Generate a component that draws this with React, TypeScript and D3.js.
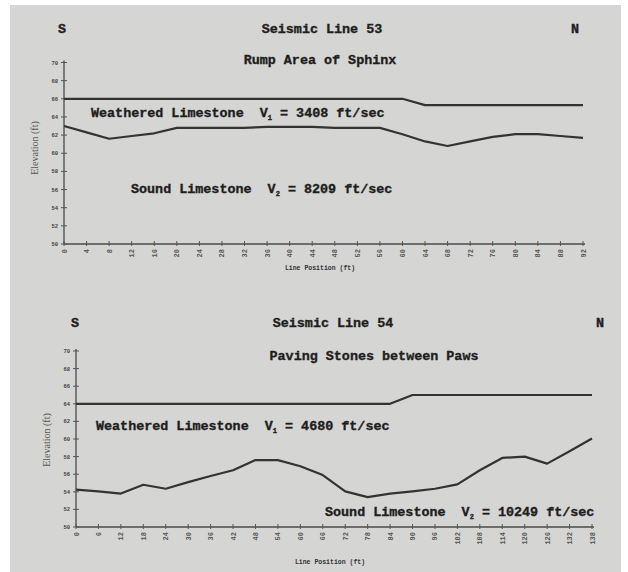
import React from "react";
import * as d3 from "d3";

// ---------- Data ----------
const yTicks = [70, 68, 66, 64, 62, 60, 58, 56, 54, 52, 50];

// Seismic Line 53 (Rump Area of Sphinx)
const s53Positions = [0, 4, 8, 12, 16, 20, 24, 28, 32, 36, 40, 44, 48, 52, 56, 60, 64, 68, 72, 76, 80, 84, 88, 92];
const s53Weathered = [66, 66, 66, 66, 66, 66, 66, 66, 66, 66, 66, 66, 66, 66, 66, 66, 65.3, 65.3, 65.3, 65.3, 65.3, 65.3, 65.3, 65.3];
const s53Sound = [63.0, 62.3, 61.6, 61.9, 62.2, 62.8, 62.8, 62.8, 62.8, 62.9, 62.9, 62.9, 62.8, 62.8, 62.8, 62.1, 61.3, 60.8, 61.3, 61.8, 62.1, 62.1, 61.9, 61.7];

// Seismic Line 54 (Paving Stones between Paws)
const s54Positions = [0, 6, 12, 18, 24, 30, 36, 42, 48, 54, 60, 66, 72, 78, 84, 90, 96, 102, 108, 114, 120, 126, 132, 138];
const s54Weathered = [64, 64, 64, 64, 64, 64, 64, 64, 64, 64, 64, 64, 64, 64, 64, 65, 65, 65, 65, 65, 65, 65, 65, 65];
const s54Sound = [54.25, 54.05, 53.8, 54.8, 54.35, 55.1, 55.8, 56.45, 57.6, 57.6, 56.9, 55.9, 54.05, 53.4, 53.8, 54.05, 54.35, 54.85, 56.45, 57.85, 58.0, 57.2, 58.6, 60.05];

const MONO = "'Liberation Mono', 'DejaVu Sans Mono', monospace";
const INK = "#1e1e1e";
const LINE = "#333333";

type ChartProps = {
  positions: number[];
  weathered: number[];
  sound: number[];
  x0: number;
  x1: number;
  yTop: number;
  yBot: number;
  title: string;
  titleX: number;
  titleY: number;
  sX: number;
  nX: number;
  subtitle: string;
  subX: number;
  subY: number;
  wText: [string, string, string];
  wX: number;
  wY: number;
  sText: [string, string, string];
  sTX: number;
  sTY: number;
  yLabelX: number;
  yLabelY: number;
  xLabelX: number;
  xLabelY: number;
};

const heavy = { stroke: INK, strokeWidth: 0.35 };

function Layer(props: { x: number; y: number; parts: [string, string, string] }) {
  const [a, sub, b] = props.parts;
  return (
    <text x={props.x} y={props.y} fontFamily={MONO} fontWeight="bold" fontSize={13.4} fill={INK} {...heavy} xmlSpace="preserve">
      <tspan>{a}</tspan>
      <tspan fontSize={7} dy={3}>{sub}</tspan>
      <tspan dy={-3}>{b}</tspan>
    </text>
  );
}

function Chart(p: ChartProps) {
  const maxPos = p.positions[p.positions.length - 1];
  const x = d3.scaleLinear().domain([0, maxPos]).range([p.x0, p.x1]);
  const y = d3.scaleLinear().domain([50, 70]).range([p.yBot, p.yTop]);
  const line = d3
    .line<number>()
    .x((_, i) => x(p.positions[i]))
    .y((d) => y(d));

  return (
    <g>
      {/* Titles */}
      <text x={p.sX} y={p.titleY} fontFamily={MONO} fontWeight="bold" fontSize={13.4} fill={INK} {...heavy} textAnchor="middle">S</text>
      <text x={p.titleX} y={p.titleY} fontFamily={MONO} fontWeight="bold" fontSize={13.4} fill={INK} {...heavy} textAnchor="middle">{p.title}</text>
      <text x={p.nX} y={p.titleY} fontFamily={MONO} fontWeight="bold" fontSize={13.4} fill={INK} {...heavy} textAnchor="middle">N</text>
      <text x={p.subX} y={p.subY} fontFamily={MONO} fontWeight="bold" fontSize={13.4} fill={INK} {...heavy} textAnchor="middle">{p.subtitle}</text>

      {/* Axes */}
      <line x1={p.x0} x2={p.x0} y1={p.yTop - 2} y2={p.yBot} stroke="#4a4a4a" strokeWidth={1.3} />
      <line x1={p.x0} x2={p.x1 + 2} y1={p.yBot} y2={p.yBot} stroke="#4a4a4a" strokeWidth={1.5} />
      {yTicks.map((t) => (
        <g key={"y" + t}>
          <line x1={p.x0 - 3} x2={p.x0 + 3} y1={y(t)} y2={y(t)} stroke="#555" strokeWidth={1} />
          <text x={p.x0 - 6} y={y(t) + 2} fontFamily={MONO} fontWeight="bold" fontSize={5.5} fill="#444" textAnchor="end">{t}</text>
        </g>
      ))}
      {p.positions.map((pos) => (
        <g key={"x" + pos}>
          <line x1={x(pos)} x2={x(pos)} y1={p.yBot - 3} y2={p.yBot + 2} stroke="#555" strokeWidth={1} />
          <text
            transform={`translate(${x(pos) + 2.5},${p.yBot + 5}) rotate(-90)`}
            fontFamily={MONO}
            fontWeight="bold"
            fontSize={7}
            fill="#555"
            textAnchor="end"
          >
            {pos}
          </text>
        </g>
      ))}
      <text x={p.xLabelX} y={p.xLabelY} fontFamily={MONO} fontWeight="bold" fontSize={6.5} fill="#333" textAnchor="middle">Line Position (ft)</text>
      <text
        transform={`translate(${p.yLabelX},${p.yLabelY}) rotate(-90)`}
        fontFamily="'Liberation Serif', serif"
        fontSize={10}
        fill="#555"
        textAnchor="middle"
      >
        Elevation (ft)
      </text>

      {/* Layer boundaries */}
      <path d={line(p.weathered) || ""} fill="none" stroke={LINE} strokeWidth={2.2} strokeLinejoin="round" />
      <path d={line(p.sound) || ""} fill="none" stroke={LINE} strokeWidth={2.2} strokeLinejoin="round" />

      <Layer x={p.wX} y={p.wY} parts={p.wText} />
      <Layer x={p.sTX} y={p.sTY} parts={p.sText} />
    </g>
  );
}

export default function App() {
  return (
    <svg
      width={628}
      height={572}
      style={{ position: "absolute", left: 0, top: 0, display: "block" }}
    >
      <rect x={0} y={0} width={628} height={572} fill="#ffffff" />
      <rect x={10} y={5} width={611} height={567} fill="#d5d5d3" />
      <Chart
        positions={s53Positions}
        weathered={s53Weathered}
        sound={s53Sound}
        x0={64}
        x1={583}
        yTop={62.5}
        yBot={244}
        title="Seismic Line 53"
        titleX={322}
        titleY={33}
        sX={62}
        nX={575}
        subtitle="Rump Area of Sphinx"
        subX={320}
        subY={64}
        wText={["Weathered Limestone  V", "1", " = 3408 ft/sec"]}
        wX={91}
        wY={117}
        sText={["Sound Limestone  V", "2", " = 8209 ft/sec"]}
        sTX={131}
        sTY={193}
        yLabelX={38}
        yLabelY={148}
        xLabelX={320}
        xLabelY={270}
      />
      <Chart
        positions={s54Positions}
        weathered={s54Weathered}
        sound={s54Sound}
        x0={76}
        x1={592}
        yTop={351}
        yBot={527}
        title="Seismic Line 54"
        titleX={333}
        titleY={327}
        sX={75}
        nX={600}
        subtitle="Paving Stones between Paws"
        subX={374}
        subY={360}
        wText={["Weathered Limestone  V", "1", " = 4680 ft/sec"]}
        wX={96}
        wY={430}
        sText={["Sound Limestone  V", "2", " = 10249 ft/sec"]}
        sTX={325}
        sTY={516}
        yLabelX={50}
        yLabelY={440}
        xLabelX={330}
        xLabelY={564}
      />
    </svg>
  );
}
